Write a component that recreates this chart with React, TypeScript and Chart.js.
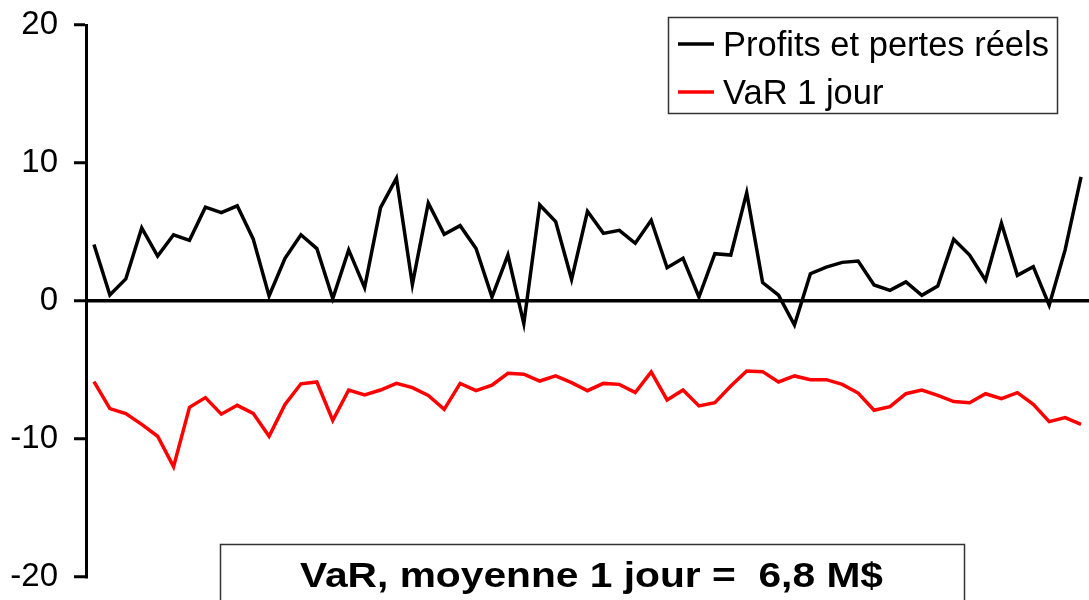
import React, { useEffect, useRef } from "react";
import { Chart, registerables } from "chart.js";

Chart.register(...registerables);

const days: string[] = Array.from({ length: 63 }, (_, i) => `J${i + 1}`);

const profitsPertes: number[] = [
  4.1, 0.43, 1.6, 5.3, 3.26, 4.8, 4.4, 6.8, 6.4, 6.9, 4.5, 0.36, 3.1, 4.8, 3.8, 0.17,
  3.7, 0.97, 6.76, 8.9, 1.2, 7.1, 4.83, 5.46, 3.8, 0.29, 3.33, -1.64, 6.96, 5.75, 1.57, 6.5,
  4.9, 5.12, 4.18, 5.85, 2.41, 3.09, 0.29, 3.43, 3.33, 7.85, 1.33, 0.43, -1.74, 1.98, 2.46, 2.8,
  2.9, 1.16, 0.77, 1.38, 0.41, 1.09, 4.47, 3.33, 1.5, 5.63, 1.86, 2.49, -0.31, 3.7, 8.99,
];

const var1Jour: number[] = [
  -5.85, -7.8, -8.16, -8.94, -9.8, -12.0, -7.7, -7.0, -8.2, -7.56, -8.14, -9.8, -7.5, -6.0, -5.87, -8.65,
  -6.45, -6.8, -6.45, -5.97, -6.28, -6.84, -7.85, -5.97, -6.5, -6.1, -5.24, -5.3, -5.8, -5.43, -5.92, -6.5,
  -5.97, -6.04, -6.64, -5.14, -7.17, -6.45, -7.6, -7.37, -6.16, -5.07, -5.12, -5.87, -5.43, -5.7, -5.7, -6.04,
  -6.67, -7.92, -7.66, -6.72, -6.45, -6.84, -7.29, -7.37, -6.72, -7.08, -6.64, -7.49, -8.74, -8.45, -8.94,
];

const seriesLabels: string[] = ["Profits et pertes réels", "VaR 1 jour"];
const seriesColors: string[] = ["#000000", "#FF0000"];
const yTicks: number[] = [-20, -10, 0, 10, 20];
const noteText = "VaR, moyenne 1 jour =  6,8 M$";

const FONT = '"Liberation Sans", Arial, sans-serif';

const overlayPlugin = {
  id: "overlay",
  afterDraw(chart: any) {
    const ctx: CanvasRenderingContext2D = chart.ctx;
    ctx.save();
    // Legend box
    ctx.fillStyle = "#ffffff";
    ctx.fillRect(668.5, 17.5, 389, 96);
    ctx.strokeStyle = "#333333";
    ctx.lineWidth = 1.5;
    ctx.strokeRect(668.5, 17.5, 389, 96);
    ctx.font = `34.5px ${FONT}`;
    ctx.textAlign = "left";
    ctx.textBaseline = "alphabetic";
    chart.data.datasets.forEach((ds: any, i: number) => {
      const cy = 44 + i * 48;
      ctx.strokeStyle = ds.borderColor;
      ctx.lineWidth = 3.5;
      ctx.beginPath();
      ctx.moveTo(678, cy);
      ctx.lineTo(714, cy);
      ctx.stroke();
      ctx.fillStyle = "#000000";
      ctx.fillText(ds.label, 723, cy + 12);
    });

    // Bottom note box
    ctx.fillStyle = "#ffffff";
    ctx.fillRect(220.5, 544.5, 744, 70);
    ctx.strokeStyle = "#333333";
    ctx.lineWidth = 1.5;
    ctx.strokeRect(220.5, 544.5, 744, 70);
    ctx.font = `bold 35px ${FONT}`;
    const w = ctx.measureText(noteText).width;
    const sx = 583 / w;
    ctx.translate(591.5, 587);
    ctx.scale(sx, 1);
    ctx.fillStyle = "#000000";
    ctx.textAlign = "center";
    ctx.fillText(noteText, 0, 0);
    ctx.restore();
  },
};

export default function App() {
  const ref = useRef<HTMLCanvasElement | null>(null);

  useEffect(() => {
    if (!ref.current) return;
    const chart = new Chart(ref.current, {
      type: "line",
      data: {
        labels: days,
        datasets: [
          {
            label: seriesLabels[0],
            data: profitsPertes,
            borderColor: seriesColors[0],
            backgroundColor: seriesColors[0],
            borderWidth: 3.5,
            pointRadius: 0,
            tension: 0,
          },
          {
            label: seriesLabels[1],
            data: var1Jour,
            borderColor: seriesColors[1],
            backgroundColor: seriesColors[1],
            borderWidth: 3.5,
            pointRadius: 0,
            tension: 0,
          },
        ],
      },
      options: {
        responsive: false,
        animation: false,
        layout: { padding: { top: 25, bottom: 23, left: 0, right: 0 } },
        plugins: {
          legend: { display: false },
          tooltip: { enabled: false },
        },
        scales: {
          x: {
            type: "category",
            display: false,
            offset: true,
          },
          y: {
            min: -20,
            max: 20,
            afterFit: (scale: any) => {
              scale.width = 86;
              scale.paddingTop = 0;
              scale.paddingBottom = 0;
            },
            afterBuildTicks: (scale: any) => {
              scale.ticks = yTicks.map((v) => ({ value: v }));
            },
            border: { display: true, color: "#000000", width: 3 },
            grid: {
              drawTicks: true,
              tickLength: 12,
              tickWidth: 3,
              tickColor: "#000000",
              lineWidth: 3.5,
              color: (c: any) => (c.tick && c.tick.value === 0 ? "#000000" : "rgba(0,0,0,0)"),
            },
            ticks: {
              padding: 16,
              color: "#000000",
              font: { family: FONT, size: 33 },
              callback: (v: any) => String(v),
            },
          },
        },
      },
      plugins: [overlayPlugin],
    });
    return () => chart.destroy();
  }, []);

  return (
    <div style={{ position: "absolute", left: 0, top: 0, width: 1089, height: 600, background: "#fff" }}>
      <canvas ref={ref} width={1089} height={600} style={{ display: "block" }} />
    </div>
  );
}
